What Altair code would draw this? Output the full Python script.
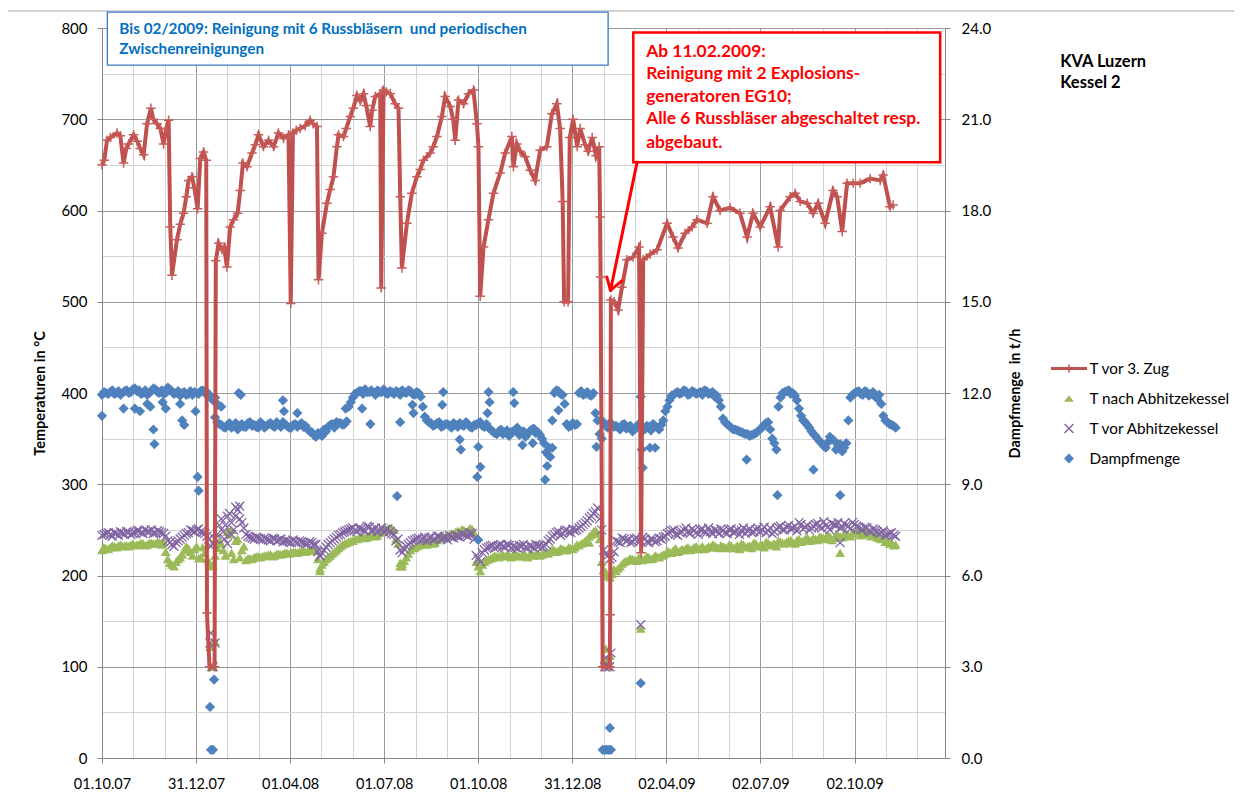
import altair as alt
import pandas as pd

# ---------------- data (x = days since 01.10.2007) ----------------
X_LABELS = ['01.10.07', '31.12.07', '01.04.08', '01.07.08', '01.10.08',
            '31.12.08', '02.04.09', '02.07.09', '02.10.09']
SERIES = ['T vor 3. Zug', 'T nach Abhitzekessel', 'T vor Abhitzekessel', 'Dampfmenge']

RED_DAY = [0, 2.2, 4.9, 8.1, 14.6, 17.8, 21.0, 23.6, 25.9, 30.7,
           34.3, 37.2, 40.5, 43.8, 47.6, 49.9, 53.5, 56.7, 59.9, 62.5,
           64.8, 66.4, 68.1, 72.9, 76.1, 79.3, 82.0, 84.2, 87.5, 89.8,
           93.0, 95.6, 98.8, 101.4, 102.1, 104.6, 109.5, 110.7, 113.4, 116.7,
           118.9, 121.5, 124.7, 128.0, 131.9, 134.5, 137.1, 141.0, 145.9, 149.1,
           152.3, 157.1, 162.0, 166.9, 171.7, 176.6, 181.4, 183.6, 185.7, 188.9,
           192.8, 197.7, 202.5, 205.5, 209.1, 210.6, 213.9, 218.8, 222.0, 225.2,
           228.5, 230.1, 234.9, 237.6, 241.5, 244.4, 248.0, 251.2, 254.4, 257.0,
           260.9, 262.8, 265.8, 270.6, 271.6, 273.9, 276.5, 280.4, 285.2, 288.4,
           290.1, 291.7, 296.6, 301.4, 306.3, 309.5, 312.7, 319.2, 322.2, 325.8,
           330.6, 333.8, 338.7, 341.6, 343.6, 346.8, 351.7, 356.5, 361.3, 364.7,
           366.2, 367.9, 371.1, 375.9, 380.8, 387.3, 392.2, 398.7, 400.2, 403.5,
           406.7, 411.6, 416.5, 421.3, 426.2, 432.7, 437.6, 442.4, 445.6, 448.1,
           449.5, 453.4, 455.0, 458.3, 462.2, 465.1, 470.0, 472.9, 476.8, 480.6,
           483.6, 484.5, 485.0, 487.0, 493.9, 494.3, 495.0, 498.2, 502.0, 505.8,
           510.7, 516.6, 522.4, 524.4, 526.4, 533.2, 540.0, 549.7, 555.5, 560.4,
           567.2, 574.0, 578.8, 588.5, 594.4, 601.2, 610.9, 620.6, 627.5, 633.3,
           640.2, 649.9, 657.7, 659.6, 669.4, 674.2, 679.1, 685.9, 691.7, 696.6,
           703.4, 711.2, 715.1, 720.0, 724.8, 730.7, 737.5, 747.2, 757.0, 759.8,
           766.6, 769.5]
RED_T = [650, 655, 677, 680, 685, 682, 652, 668, 673, 683,
         676, 668, 661, 695, 712, 700, 695, 690, 673, 690,
         699, 582, 529, 568, 585, 597, 615, 633, 637, 625,
         602, 657, 664, 655, 159, 100, 100, 545, 564, 557,
         560, 538, 582, 590, 597, 622, 652, 648, 663, 672,
         683, 670, 677, 670, 685, 679, 683, 498, 685, 688,
         690, 693, 699, 695, 692, 524, 575, 608, 623, 637,
         670, 683, 681, 690, 703, 712, 726, 720, 728, 715,
         692, 710, 725, 728, 515, 732, 730, 728, 717, 712,
         615, 537, 586, 619, 637, 645, 655, 663, 670, 681,
         703, 725, 714, 700, 677, 721, 717, 728, 732, 695,
         670, 506, 560, 590, 619, 641, 663, 681, 648, 673,
         665, 659, 644, 633, 666, 670, 706, 717, 690, 610,
         500, 500, 680, 700, 670, 690, 672, 665, 680, 660,
         670, 593, 527, 100, 100, 157, 502, 500, 491, 516,
         546, 549, 560, 225, 546, 552, 557, 586, 571, 559,
         575, 582, 590, 586, 615, 600, 603, 597, 571, 597,
         582, 604, 560, 600, 615, 619, 610, 608, 597, 608,
         586, 622, 615, 577, 630, 630, 630, 635, 633, 639,
         604, 606]

# scatter series read at two interleaved sets of dates (every 4 days, offset by 2)
DAYS_A = list(range(0, 776, 4))   # 0 .. 772
DAYS_B = list(range(2, 772, 4))   # 2 .. 770

GREEN_A = [228, 230, 231, 232, 233, 232, 233, 234, 233, 234, 235, 234, 236, 235, 236, 237,
           218, 212, 215, 220,
           228, 230, 222, 232, 220, 225, 215,
           212, 230,
           235, 222, 245, 218, 240, 228,
           217, 219, 220, 221, 221, 222, 223, 222, 224, 224, 225, 225, 226, 226, 227, 227, 228, 228,
           208, 215,
           220, 224, 228, 232, 235, 237, 238,
           240, 242, 241, 243, 245, 244, 248, 250,
           252, 250, 235,
           210, 220, 228,
           230, 233, 235, 234, 237, 236, 240, 242, 244, 246, 248, 247, 250, 249, 251,
           215, 205,
           215, 218, 220, 221, 222, 221, 222, 223, 222, 221, 222, 223, 222, 224, 223, 225,
           226, 228, 227, 229, 228, 230, 231, 233,
           236, 240, 245, 250, 240,
           206, 200, 202,
           205, 210, 215, 217, 218, 216, 219, 218, 220, 219, 221,
           222, 224, 226, 228, 226, 229, 230, 228, 231, 229, 232, 230, 231, 233, 230,
           232, 230, 233, 231, 229, 234, 232, 230, 235, 233, 231, 236, 234, 232, 237,
           235, 238, 236, 239, 237, 240, 238, 241, 239, 242, 240, 243, 241, 244, 242, 245, 243,
           246, 248, 245, 247, 243, 245, 241, 243, 238, 236, 234]
GREEN_B = [231, 229, 233, 231, 234, 233, 232, 235, 234, 236, 233, 236, 235, 237, 234, 226,
           214, 210, 218, 223,
           232, 226, 229, 219, 231, 218, 210,
           222, 238,
           228, 248, 225, 238, 220, 232,
           219, 218, 221, 220, 222, 223, 221, 224, 223, 225, 224, 226, 225, 227, 226, 228, 227, 218,
           212, 218,
           222, 226, 230, 234, 236, 238, 240,
           241, 243, 242, 246, 243, 247, 249, 252,
           251, 240, 214,
           216, 224, 231,
           232, 234, 236, 238, 235, 239, 241, 243, 245, 244, 249, 251, 248, 252, 246,
           210, 212,
           217, 219, 222, 220, 223, 222, 220, 224, 221, 223, 220, 224, 223, 222, 225, 224,
           229, 226, 230, 228, 231, 229, 234, 235,
           238, 243, 248, 246, 215,
           204, 198, 207,
           208, 213, 216, 219, 217, 220, 217, 221, 218, 222, 220,
           223, 227, 225, 230, 227, 228, 231, 229, 232, 230, 229, 232, 234, 231, 233,
           231, 234, 230, 233, 235, 231, 233, 236, 232, 234, 237, 233, 235, 238, 236,
           237, 239, 235, 240, 238, 242, 239, 240, 243, 241, 244, 239, 245, 243, 246, 244, 247,
           247, 244, 249, 246, 244, 242, 240, 237, 235, 233]
GREEN_OUT_DAY = [105, 107, 108, 110, 212, 290, 292, 474, 488, 489, 490, 492, 494, 524, 718, 126]
GREEN_OUT = [122, 100, 100, 128, 205, 210, 213, 236, 206, 105, 120, 108, 112, 142, 225, 250]

PURPLE_A = [244, 246, 245, 247, 244, 246, 248, 245, 247, 249, 246, 248, 250, 247, 248, 246,
            238, 234, 236, 240,
            244, 247, 249, 250, 248, 246, 240,
            235, 245,
            262, 255, 268, 250, 272, 258,
            245, 242, 240, 241, 239, 240, 238, 240, 239, 237, 238, 236, 237, 238, 236, 235, 236, 234,
            222, 228,
            234, 238, 242, 245, 248, 250, 252,
            248, 251, 249, 253, 250, 248, 252, 250,
            248, 245, 240,
            225, 232, 236,
            239, 241, 240, 238, 242, 240, 243, 241, 239, 242, 244, 242, 245, 243, 246,
            222, 215,
            228, 231, 233, 232, 234, 231, 233, 232, 230, 232, 231, 233, 230, 232, 231, 234,
            240, 245, 248, 246, 250, 247, 249, 252,
            256, 260, 265, 270, 262,
            228, 222, 220,
            238, 236, 240, 239, 237, 241, 238, 240, 236, 239, 238,
            240, 243, 247, 250, 244, 248, 252, 246, 249, 245, 251, 247, 248, 250, 246,
            249, 246, 251, 248, 245, 252, 249, 247, 250, 248, 253, 249, 246, 251, 254,
            250, 255, 252, 249, 256, 253, 250, 254, 257, 252, 255, 250, 256, 258, 253, 255, 251,
            256, 253, 250, 252, 248, 250, 246, 249, 245, 247, 243]
PURPLE_B = [245, 247, 243, 246, 248, 245, 247, 246, 249, 247, 250, 248, 246, 249, 247, 243,
            236, 232, 238, 242,
            246, 250, 248, 251, 247, 243, 232,
            240, 255,
            248, 265, 258, 275, 262, 252,
            243, 241, 242, 240, 241, 239, 241, 238, 240, 238, 237, 239, 236, 237, 235, 237, 234, 226,
            225, 231,
            236, 240, 244, 247, 249, 251, 250,
            252, 250, 254, 249, 252, 250, 248, 251,
            246, 238, 228,
            229, 234, 238,
            240, 239, 242, 241, 239, 243, 240, 242, 244, 241, 243, 246, 244, 247, 240,
            218, 225,
            230, 232, 230, 233, 232, 234, 230, 231, 233, 234, 230, 232, 234, 233, 232, 238,
            243, 247, 244, 249, 248, 251, 250, 254,
            258, 263, 268, 274, 250,
            224, 218, 226,
            237, 241, 238, 236, 240, 239, 242, 237, 240, 237, 241,
            242, 246, 249, 245, 247, 250, 248, 251, 247, 250, 248, 252, 246, 249, 251,
            247, 250, 247, 250, 249, 246, 251, 248, 252, 250, 247, 252, 248, 253, 250,
            253, 251, 254, 258, 251, 255, 252, 256, 254, 259, 253, 257, 255, 252, 257, 254, 258,
            254, 251, 253, 249, 251, 248, 247, 244, 246, 244]
PURPLE_OUT_DAY = [105, 106, 107, 108, 110, 119, 122, 126, 130, 134, 212, 489, 490, 492, 494, 495, 524, 718]
PURPLE_OUT = [126, 137, 100, 100, 126, 240, 235, 245, 265, 276, 221, 100, 110, 100, 100, 115, 146, 236]

# Dampfmenge in t/h (right axis)
BLUE_A = [11.94, 12.0, 12.03, 11.97, 12.06, 12.0, 12.09, 12.03, 12.15, 12.09, 12.0, 11.94, 12.06,
          12.12, 12.0, 11.97, 12.18, 12.06, 12.0, 11.91, 12.03, 11.97, 11.94, 12.0, 12.06,
          12.0, 11.94, 11.76,
          11.04, 10.95, 10.86, 11.01, 10.92, 10.8, 10.98, 10.89, 11.04, 10.95, 10.86, 10.98, 10.92,
          11.01, 10.89, 10.95, 11.04, 10.92, 10.86, 10.98, 10.95, 10.89, 10.8, 10.71, 10.56, 10.65,
          10.8, 10.89, 10.98, 11.04, 11.01, 10.98,
          11.55, 11.85, 12.0, 12.06, 12.12, 12.03, 12.0, 12.09, 12.03, 12.0, 12.06, 11.97, 12.03, 12.09,
          12.0, 12.06, 11.94, 12.0, 11.55,
          11.1, 11.01, 10.95, 11.04, 10.92, 10.98, 10.86, 10.95, 11.01, 10.92, 10.98, 10.86, 10.95, 11.04, 10.89,
          10.86, 10.74, 10.65, 10.8, 10.71, 10.59, 10.74, 10.86, 10.68, 10.56, 10.74, 10.83, 10.71, 10.5, 10.05, 9.9,
          12.0, 12.06, 11.94,
          10.98, 10.92, 10.95,
          12.0, 11.94, 12.03, 11.91, 11.34, 10.65,
          11.04, 10.86, 10.98,
          10.92, 10.8, 10.98, 10.89, 10.74, 10.86, 10.95, 10.8, 10.89, 10.98, 10.86,
          10.95, 11.4, 11.76,
          11.94, 12.03, 12.0, 12.06, 11.97, 12.03, 12.0, 11.94, 12.06, 12.0, 11.88, 11.76,
          11.16, 10.98, 10.86, 10.8, 10.74, 10.68, 10.65, 10.62, 10.68, 10.8, 10.95, 11.04, 10.5, 10.14,
          11.85, 12.03, 12.09, 12.0, 11.76,
          11.25, 11.04, 10.86, 10.65, 10.5, 10.35, 10.2, 10.56, 10.44, 10.26, 10.08, 10.35,
          11.85, 12.0, 12.06, 11.94, 12.03, 11.97, 11.88, 11.94, 11.25, 11.04, 10.95, 10.86]
BLUE_B = [12.03, 11.97, 12.09, 12.0, 11.94, 12.06, 12.0, 12.12, 12.06, 11.97, 12.09, 12.0, 12.15,
          12.03, 12.09, 12.0, 12.12, 11.97, 12.06, 12.0, 11.94, 12.06, 12.03, 11.97, 12.09,
          12.03, 11.88, 11.2,
          10.98, 10.89, 10.95, 10.86, 11.01, 10.92, 10.89, 11.01, 10.92, 10.89, 11.04, 10.86, 10.98,
          10.92, 11.04, 10.89, 10.98, 10.86, 10.95, 10.89, 11.01, 10.92, 10.74, 10.62, 10.68, 10.59,
          10.74, 10.95, 10.86, 11.01, 10.95, 11.07,
          11.7, 11.97, 12.06, 11.97, 12.03, 12.09, 11.94, 12.03, 12.12, 11.97, 12.03, 12.06, 11.94, 12.03,
          12.09, 11.97, 12.03, 11.88, 11.22,
          11.04, 10.92, 11.01, 10.89, 10.98, 10.92, 11.01, 10.89, 10.95, 11.04, 10.89, 10.95, 11.01, 10.92, 10.98,
          10.8, 10.68, 10.74, 10.65, 10.77, 10.71, 10.8, 10.62, 10.74, 10.65, 10.8, 10.68, 10.62, 10.35, 9.96, 10.2,
          12.09, 11.97, 11.64,
          10.89, 11.01, 10.98,
          12.06, 11.97, 11.94, 12.0, 11.1, 10.5,
          10.92, 11.01, 10.89,
          10.86, 10.95, 10.83, 10.92, 10.8, 10.98, 10.86, 10.92, 10.77, 10.92, 10.8,
          11.1, 11.55, 11.91,
          12.0, 11.97, 12.09, 11.94, 12.06, 11.97, 12.03, 12.09, 11.97, 12.03, 11.91, 11.55,
          11.04, 10.92, 10.8, 10.77, 10.71, 10.65, 10.59, 10.65, 10.74, 10.86, 11.01, 10.8, 10.35, 11.55,
          12.0, 12.06, 11.97, 11.91, 11.49,
          11.1, 10.95, 10.74, 10.59, 10.41, 10.26, 10.38, 10.47, 10.14, 10.32, 10.2, 11.1,
          11.94, 12.03, 11.97, 12.06, 11.91, 12.03, 11.82, 11.64, 11.1, 10.98, 10.92]
BLUE_OUT_DAY = [0, 21, 32, 37, 44, 47, 50, 51, 59, 62,
                76, 78, 80, 91, 93, 94, 105, 106, 108, 109,
                110, 113, 116, 133, 135, 176, 177, 190, 237, 253,
                261, 287, 290, 302, 303, 331, 332, 348, 349, 365,
                366, 366, 368, 375, 376, 377, 400, 401, 409, 419,
                431, 433, 435, 438, 444, 481, 487, 489, 491, 493,
                494, 495, 524, 524, 525, 526, 533, 538, 627, 657,
                692, 718]
BLUE_OUT = [11.25, 11.49, 11.49, 11.4, 11.64, 11.55, 10.8, 10.32, 11.7, 11.49,
            11.64, 11.1, 10.95, 11.4, 9.24, 8.79, 1.68, 0.27, 0.27, 2.58,
            11.85, 11.61, 11.55, 12.0, 11.94, 11.76, 11.4, 11.34, 11.49, 11.49,
            10.98, 8.61, 11.04, 11.61, 11.34, 11.61, 12.03, 10.47, 10.14, 9.24,
            10.23, 7.17, 9.57, 11.34, 12.03, 11.7, 12.03, 11.67, 10.29, 10.35,
            9.15, 9.6, 10.2, 11.1, 11.43, 10.23, 0.27, 0.27, 0.27, 0.27,
            0.99, 0.27, 2.46, 11.88, 10.14, 9.54, 10.2, 10.2, 9.81, 8.64,
            9.48, 8.64]

BLUE_NOTE = ['Bis 02/2009: Reinigung mit 6 Russbläsern \u00a0und periodischen', 'Zwischenreinigungen']
RED_NOTE = ['Ab 11.02.2009:', 'Reinigung mit 2 Explosions-', 'generatoren EG10;',
            'Alle 6 Russbläser abgeschaltet resp.', 'abgebaut.']
TITLE = ['KVA Luzern', 'Kessel 2']

# ---------------- styles ----------------
RED_C, GREEN_C, PURPLE_C, BLUE_C = '#C0504D', '#9BBB59', '#8064A2', '#4F81BD'
MAJ, MIN, AX = '#9A9A9A', '#D4D4D4', '#868686'
FONT = 'Lato'
W, H = 843, 730

PLUS_OPEN = 'M-1,0L1,0M0,-1L0,1'
X_OPEN = 'M-1,-1L1,1M-1,1L1,-1'
LEG_LINE = ('M-1.2,-0.1L-0.05,-0.1L-0.05,-0.27L0.05,-0.27L0.05,-0.1L1.2,-0.1L1.2,0.1'
            'L0.05,0.1L0.05,0.27L-0.05,0.27L-0.05,0.1L-1.2,0.1Z')
LEG_TRI = 'M0,-0.22L0.33,0.22L-0.33,0.22Z'
LEG_X = ('M-0.268,-0.332L0.332,0.268L0.268,0.332L-0.332,-0.268Z'
         'M-0.332,0.268L0.268,-0.332L0.332,-0.268L-0.268,0.332Z')
LEG_DIA = 'M0,-0.34L0.33,0L0,0.34L-0.33,0Z'


def frame(days_a, vals_a, days_b, vals_b, days_o, vals_o, col):
    na, nb = min(len(days_a), len(vals_a)), min(len(days_b), len(vals_b))
    return pd.DataFrame({'day': days_a[:na] + days_b[:nb] + days_o,
                         col: vals_a[:na] + vals_b[:nb] + vals_o})


green_df = frame(DAYS_A, GREEN_A, DAYS_B, GREEN_B, GREEN_OUT_DAY, GREEN_OUT, 'temp')
purple_df = frame(DAYS_A, PURPLE_A, DAYS_B, PURPLE_B, PURPLE_OUT_DAY, PURPLE_OUT, 'temp')
blue_df = frame(DAYS_A, BLUE_A, DAYS_B, BLUE_B, BLUE_OUT_DAY, BLUE_OUT, 'flow')
red_df = pd.DataFrame({'day': RED_DAY, 'temp': RED_T})

# ---------------- scales & axes ----------------
x_scale = alt.Scale(domain=[0, 820], nice=False, zero=False)
y_scale = alt.Scale(domain=[0, 800], nice=False)
y2_scale = alt.Scale(domain=[0, 24], nice=False)

lab_arr = '[' + ','.join("'%s'" % s for s in X_LABELS) + ']'
xmaj = 'datum.value % 91.5 === 0'
x_axis = alt.Axis(
    values=[i * 30.5 for i in range(27)], title=None,
    labelExpr=f"{xmaj} ? {lab_arr}[datum.value / 91.5] : ''",
    labelFlush=False, labelOverlap=False, labelPadding=14, labelFont=FONT,
    labelFontSize=14.5, labelColor='#000000',
    tickSize=5, tickColor=AX,
    tickOpacity={'condition': {'test': xmaj, 'value': 1}, 'value': 0},
    grid=True, gridColor={'condition': {'test': xmaj, 'value': MAJ}, 'value': MIN},
    domainColor=AX)
ymaj = 'datum.value % 100 === 0'
y_axis = alt.Axis(
    values=list(range(0, 801, 50)), title='Temperaturen in °C',
    labelExpr=f"{ymaj} ? datum.label : ''", labelOverlap=False,
    labelPadding=10, labelFont=FONT, labelFontSize=15, labelColor='#000000',
    tickSize=5, tickColor=AX,
    tickOpacity={'condition': {'test': ymaj, 'value': 1}, 'value': 0},
    grid=True, gridColor={'condition': {'test': ymaj, 'value': MAJ}, 'value': MIN},
    domainColor=AX, titleFont=FONT, titleFontSize=14.5, titleFontWeight='bold',
    titleColor='#000000', titleX=-62, titleY=H / 2, titleAngle=270,
    titleAlign='center', titleBaseline='middle')
y2_axis = alt.Axis(
    orient='right', values=[0, 3, 6, 9, 12, 15, 18, 21, 24], format='.1f',
    title='Dampfmenge \u00a0in t/h', grid=False, labelPadding=11, labelFont=FONT,
    labelFontSize=15, labelColor='#000000', tickSize=5, tickColor=AX,
    domainColor=AX, titleFont=FONT, titleFontSize=14.5, titleFontWeight='bold',
    titleColor='#000000', titleX=70, titleY=H / 2, titleAngle=270,
    titleAlign='center', titleBaseline='middle')

X = alt.X('day:Q', scale=x_scale, axis=x_axis)
Y = alt.Y('temp:Q', scale=y_scale, axis=y_axis)

# ---------------- layers ----------------
one = pd.DataFrame({'a': [0]})
frame_v = alt.Chart(one).mark_rule(color='#A6A6A6', strokeWidth=1).encode(
    x=alt.value(-95), y=alt.value(-17), y2=alt.value(790))
frame_h = alt.Chart(one).mark_rule(color='#A6A6A6', strokeWidth=1).encode(
    x=alt.value(-95), x2=alt.value(1140), y=alt.value(-17))

green = alt.Chart(green_df).mark_point(
    shape='triangle-up', filled=True, size=95, color=GREEN_C, opacity=1).encode(x=X, y=Y)
purple = alt.Chart(purple_df).mark_point(
    shape=X_OPEN, filled=False, size=80, strokeWidth=1.3, color=PURPLE_C, opacity=1).encode(x=X, y=Y)
blue = alt.Chart(blue_df).transform_calculate(temp='datum.flow * 800 / 24').mark_point(
    shape='diamond', filled=True, size=105, color=BLUE_C, opacity=1).encode(x=X, y=Y)
red_line = alt.Chart(red_df).mark_line(color=RED_C, strokeWidth=4).encode(x=X, y=Y)
red_pts = alt.Chart(red_df).mark_point(
    shape=PLUS_OPEN, filled=False, size=90, strokeWidth=1.5, color='#C65B58', opacity=1).encode(x=X, y=Y)

# annotation boxes (in data units)
bbox = pd.DataFrame({'day': [5.2], 'day2': [492.3], 'temp': [817.4], 'temp2': [759.4]})
blue_box = alt.Chart(bbox).mark_rect(fill='white', stroke='#3A7CC2', strokeWidth=1.3).encode(
    x=X, x2='day2:Q', y=Y, y2='temp2:Q')
btxt = pd.DataFrame({'day': [16.9, 16.9], 'temp': [798.8, 777.0], 'txt': BLUE_NOTE})
blue_txt = alt.Chart(btxt).mark_text(
    align='left', baseline='middle', font=FONT, fontSize=15.3, fontWeight='bold',
    color='#0070C0').encode(x=X, y=Y, text='txt:N')

rbox = pd.DataFrame({'day': [516.8], 'day2': [815.3], 'temp': [795.2], 'temp2': [652.8]})
red_box = alt.Chart(rbox).mark_rect(fill='white', stroke='#FF0000', strokeWidth=2.5).encode(
    x=X, x2='day2:Q', y=Y, y2='temp2:Q')
rtxt = pd.DataFrame({'day': [529.3] * 5, 'temp': [774, 749.5, 724.6, 700, 674.3], 'txt': RED_NOTE})
red_txt = alt.Chart(rtxt).mark_text(
    align='left', baseline='middle', font=FONT, fontSize=17.4, fontWeight='bold',
    color='#FF0000').encode(x=X, y=Y, text='txt:N')

arrow_df = pd.DataFrame({'day': [520.5, 494.6, 494.6], 'temp': [653, 512.4, 512.4],
                         'day2': [494.6, 491.0, 505.5], 'temp2': [512.4, 527.2, 522.8]})
arrow = alt.Chart(arrow_df).mark_rule(color='#FF0000', strokeWidth=3, strokeCap='round').encode(
    x=X, x2='day2:Q', y=Y, y2='temp2:Q')

tdf = pd.DataFrame({'day': [932, 932], 'temp': [763, 739.3], 'txt': TITLE})
title_txt = alt.Chart(tdf).mark_text(
    align='left', baseline='middle', font=FONT, fontSize=16.5, fontWeight='bold',
    color='#000000').encode(x=X, y=Y, text='txt:N')

leg = alt.Legend(title=None, orient='none', legendX=952, legendY=325.5, padding=0,
                 symbolSize=900, rowPadding=6, labelFont=FONT, labelFontSize=15.3,
                 labelColor='#000000', labelOffset=5.5, symbolStrokeWidth=0,
                 symbolOpacity=1)
legend_df = pd.DataFrame({'serie': SERIES, 'day': [float('nan')] * 4, 'temp': [float('nan')] * 4})
legend_layer = alt.Chart(legend_df).mark_point(filled=True, opacity=1).encode(
    x=X, y=Y,
    color=alt.Color('serie:N', scale=alt.Scale(domain=SERIES, range=[RED_C, GREEN_C, PURPLE_C, BLUE_C]),
                    legend=leg),
    shape=alt.Shape('serie:N', scale=alt.Scale(domain=SERIES, range=[LEG_LINE, LEG_TRI, LEG_X, LEG_DIA]),
                    legend=leg))

left = alt.layer(frame_v, frame_h, green, purple, blue, red_line, red_pts,
                 blue_box, blue_txt, red_box, red_txt, arrow, title_txt, legend_layer)

right = alt.Chart(blue_df).mark_point(opacity=0).encode(
    x=X, y=alt.Y('flow:Q', scale=y2_scale, axis=y2_axis))

chart = alt.layer(left, right).resolve_scale(y='independent').properties(
    width=W, height=H,
    autosize=alt.AutoSizeParams(type='none'),
    padding={'left': 94, 'top': 20, 'right': 289, 'bottom': 39},
).configure_view(strokeWidth=0)

chart.save('out.html', embed_options={'renderer': 'svg', 'actions': False})
